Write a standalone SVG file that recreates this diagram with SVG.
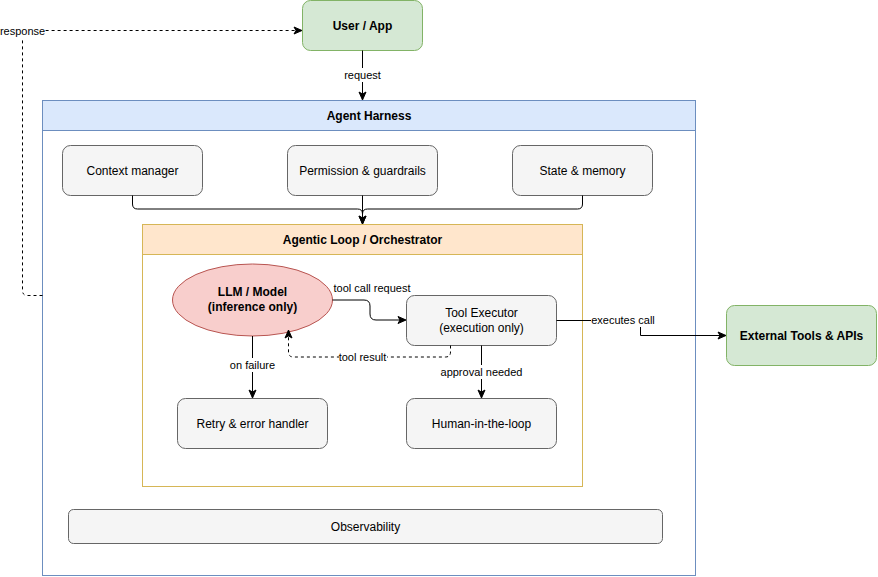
<svg xmlns="http://www.w3.org/2000/svg" width="878" height="577" viewBox="0 0 878 577">
<defs>
<marker id="arr" markerWidth="10" markerHeight="10" refX="8" refY="5" orient="auto" markerUnits="userSpaceOnUse">
<path d="M1,1.5 L9,5 L1,8.5 L3,5 Z" fill="#000" stroke="#000" stroke-width="1"/>
</marker>
<style>
text{font-family:"Liberation Sans",Arial,sans-serif;fill:#000}
.t{font-size:12px;text-anchor:middle;dominant-baseline:central}
.b{font-weight:bold}
.lbl{font-size:11px;text-anchor:middle;dominant-baseline:central}
.gray{fill:#f5f5f5;stroke:#666;stroke-width:1}
.green{fill:#d5e8d4;stroke:#82b366;stroke-width:1}
.edge{fill:none;stroke:#000;stroke-width:1}
.dash{stroke-dasharray:3 3}
.bg{fill:#fff}
</style>
</defs>
<rect width="878" height="577" fill="#fff"/>

<g id="harness">
<rect x="42.5" y="100.5" width="653" height="475" fill="#fff" stroke="#6c8ebf"/>
<rect x="42.5" y="100.5" width="653" height="30" fill="#dae8fc" stroke="#6c8ebf"/>
<text class="t b" x="369" y="115.5">Agent Harness</text>
</g>

<g id="user">
<rect class="green" x="302.5" y="0.5" width="120" height="50" rx="8"/>
<text class="t b" x="362.5" y="25.5">User / App</text>
</g>

<g id="context">
<rect class="gray" x="62.5" y="145.5" width="140" height="50" rx="8"/>
<text class="t" x="132.5" y="170.5">Context manager</text>
</g>
<g id="permission">
<rect class="gray" x="287.5" y="145.5" width="150" height="50" rx="8"/>
<text class="t" x="362.5" y="170.5">Permission &amp; guardrails</text>
</g>
<g id="state">
<rect class="gray" x="512.5" y="145.5" width="140" height="50" rx="8"/>
<text class="t" x="582.5" y="170.5">State &amp; memory</text>
</g>

<g id="loop">
<rect x="142.5" y="224.5" width="440" height="262" fill="#fff" stroke="#d6b656"/>
<rect x="142.5" y="224.5" width="440" height="30" fill="#ffe6cc" stroke="#d6b656"/>
<text class="t b" x="362.5" y="239.5">Agentic Loop / Orchestrator</text>
</g>

<g id="llm">
<ellipse cx="252.5" cy="300" rx="80" ry="36" fill="#f8cecc" stroke="#b85450"/>
<text class="t b" x="252.5" y="292">LLM / Model</text>
<text class="t b" x="252.5" y="307">(inference only)</text>
</g>

<g id="executor">
<rect class="gray" x="406.5" y="295.5" width="150" height="50" rx="8"/>
<text class="t" x="481.5" y="313">Tool Executor</text>
<text class="t" x="481.5" y="328">(execution only)</text>
</g>

<g id="retry">
<rect class="gray" x="177.5" y="398.5" width="150" height="50" rx="8"/>
<text class="t" x="252.5" y="423.5">Retry &amp; error handler</text>
</g>

<g id="human">
<rect class="gray" x="406.5" y="398.5" width="150" height="50" rx="8"/>
<text class="t" x="481.5" y="423.5">Human-in-the-loop</text>
</g>

<g id="observability">
<rect class="gray" x="68.5" y="509.5" width="594" height="34" rx="5"/>
<text class="t" x="365.5" y="526.5">Observability</text>
</g>

<g id="external">
<rect class="green" x="726.5" y="305.5" width="150" height="60" rx="8"/>
<text class="t b" x="801.5" y="335.5">External Tools &amp; APIs</text>
</g>

<g id="connectors">
<!-- request -->
<path class="edge" d="M362.5,50.5 V99" marker-end="url(#arr)"/>
<rect class="bg" x="345" y="68" width="36" height="14"/>
<text class="lbl" x="362.5" y="75">request</text>
<!-- response -->
<path class="edge dash" d="M42.5,295.5 H27.5 Q22.5,295.5 22.5,290.5 V30.5 H301" marker-end="url(#arr)"/>
<rect class="bg" x="0" y="24" width="45" height="14"/>
<text class="lbl" x="22.5" y="30.5">response</text>
<!-- top three into loop -->
<path class="edge" d="M132.5,195.5 V204 Q132.5,209 137.5,209 H357.5 Q362.5,209 362.5,214 V223" marker-end="url(#arr)"/>
<path class="edge" d="M582.5,195.5 V204 Q582.5,209 577.5,209 H367.5 Q362.5,209 362.5,214"/>
<path class="edge" d="M362.5,195.5 V223" marker-end="url(#arr)"/>
<!-- tool call request -->
<path class="edge" d="M332.5,300 H364 Q370,300 370,306 V314 Q370,320 376,320 H405" marker-end="url(#arr)"/>
<text class="lbl" x="372" y="287.5">tool call request</text>
<!-- tool result -->
<path class="edge dash" d="M450.5,345.5 V352 Q450.5,357 445.5,357 H293.5 Q288.5,357 288.5,352 V331" marker-end="url(#arr)"/>
<rect class="bg" x="339" y="350" width="48" height="14"/>
<text class="lbl" x="362.5" y="357">tool result</text>
<!-- on failure -->
<path class="edge" d="M252.5,336 V397" marker-end="url(#arr)"/>
<rect class="bg" x="229" y="358" width="47" height="14"/>
<text class="lbl" x="252.5" y="365">on failure</text>
<!-- approval needed -->
<path class="edge" d="M481.5,345.5 V397" marker-end="url(#arr)"/>
<rect class="bg" x="440" y="365" width="83" height="14"/>
<text class="lbl" x="481.5" y="372">approval needed</text>
<!-- executes call -->
<path class="edge" d="M556.5,320.5 H640.5 V335.5 H725" marker-end="url(#arr)"/>
<rect class="bg" x="591" y="313" width="64" height="14"/>
<text class="lbl" x="623" y="320">executes call</text>
</g>
</svg>
